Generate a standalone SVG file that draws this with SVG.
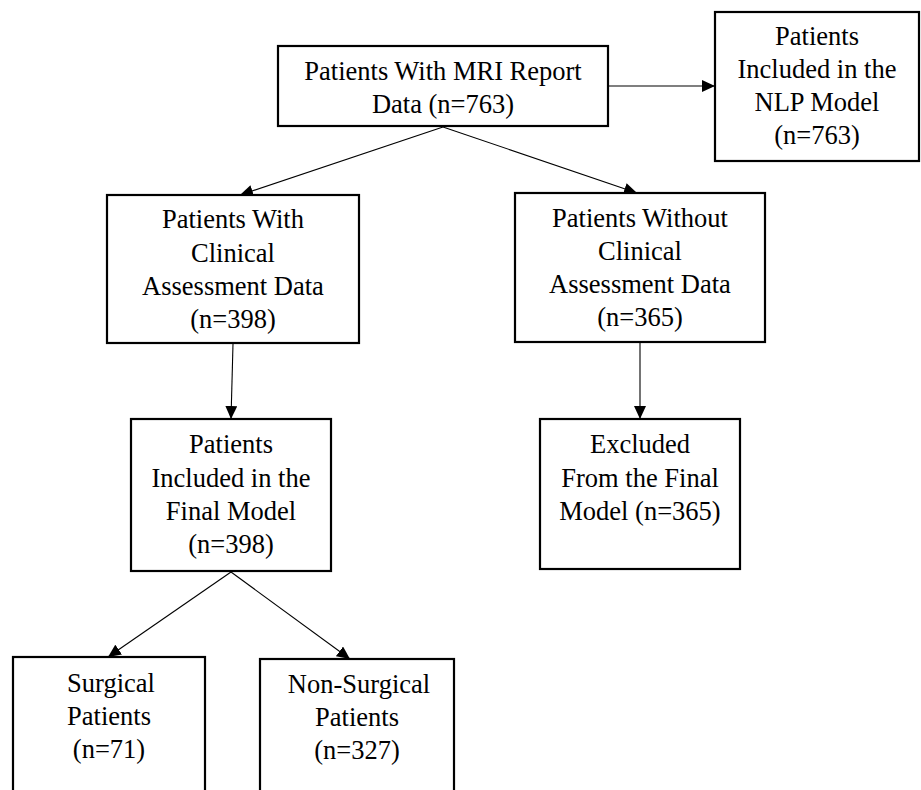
<svg xmlns="http://www.w3.org/2000/svg" width="921" height="790" viewBox="0 0 921 790">
<style>
.box{fill:#fff;stroke:#000;stroke-width:2.2}
.t{font-family:"Liberation Serif","Times New Roman",serif;font-size:26.5px;fill:#000;text-anchor:middle}
.c{stroke:#000;stroke-width:1.1;fill:none;marker-end:url(#ah)}
</style>
<defs>
<marker id="ah" markerUnits="userSpaceOnUse" markerWidth="14" markerHeight="12" refX="13" refY="6" orient="auto">
<path d="M0,0 L13,6 L0,12 Z" fill="#000"/>
</marker>
</defs>
<rect width="921" height="790" fill="#fff"/>
<g id="connectors">
<line class="c" x1="608" y1="86" x2="715" y2="86"/>
<line class="c" x1="443" y1="127" x2="240" y2="195"/>
<line class="c" x1="443" y1="127" x2="637" y2="193"/>
<line class="c" x1="233" y1="344" x2="231" y2="419"/>
<line class="c" x1="640" y1="343" x2="640" y2="419"/>
<line class="c" x1="231" y1="572" x2="108" y2="657"/>
<line class="c" x1="231" y1="572" x2="350" y2="659"/>
</g>
<g id="mri">
<rect class="box" x="278" y="46" width="330" height="80"/>
<text class="t" x="443" y="80">Patients With MRI Report</text>
<text class="t" x="443" y="113">Data (n=763)</text>
</g>
<g id="nlp">
<rect class="box" x="715" y="12" width="204" height="149"/>
<text class="t" x="817" y="45">Patients</text>
<text class="t" x="817" y="78">Included in the</text>
<text class="t" x="817" y="111">NLP Model</text>
<text class="t" x="817" y="144">(n=763)</text>
</g>
<g id="with">
<rect class="box" x="107" y="195" width="252" height="148"/>
<text class="t" x="233" y="228">Patients With</text>
<text class="t" x="233" y="262">Clinical</text>
<text class="t" x="233" y="295">Assessment Data</text>
<text class="t" x="233" y="328">(n=398)</text>
</g>
<g id="without">
<rect class="box" x="515" y="193" width="250" height="149"/>
<text class="t" x="640" y="227">Patients Without</text>
<text class="t" x="640" y="260">Clinical</text>
<text class="t" x="640" y="293">Assessment Data</text>
<text class="t" x="640" y="326">(n=365)</text>
</g>
<g id="final">
<rect class="box" x="131" y="419" width="200" height="152"/>
<text class="t" x="231" y="453">Patients</text>
<text class="t" x="231" y="487">Included in the</text>
<text class="t" x="231" y="520">Final Model</text>
<text class="t" x="231" y="553">(n=398)</text>
</g>
<g id="excluded">
<rect class="box" x="540" y="419" width="200" height="150"/>
<text class="t" x="640" y="453">Excluded</text>
<text class="t" x="640" y="487">From the Final</text>
<text class="t" x="640" y="520">Model (n=365)</text>
</g>
<g id="surgical">
<rect class="box" x="13" y="657" width="192" height="150"/>
<text class="t" x="111" y="692">Surgical</text>
<text class="t" x="109" y="725">Patients</text>
<text class="t" x="109" y="758">(n=71)</text>
</g>
<g id="nonsurgical">
<rect class="box" x="260" y="659" width="194" height="150"/>
<text class="t" x="359" y="693">Non-Surgical</text>
<text class="t" x="357" y="726">Patients</text>
<text class="t" x="357" y="759">(n=327)</text>
</g>
</svg>
